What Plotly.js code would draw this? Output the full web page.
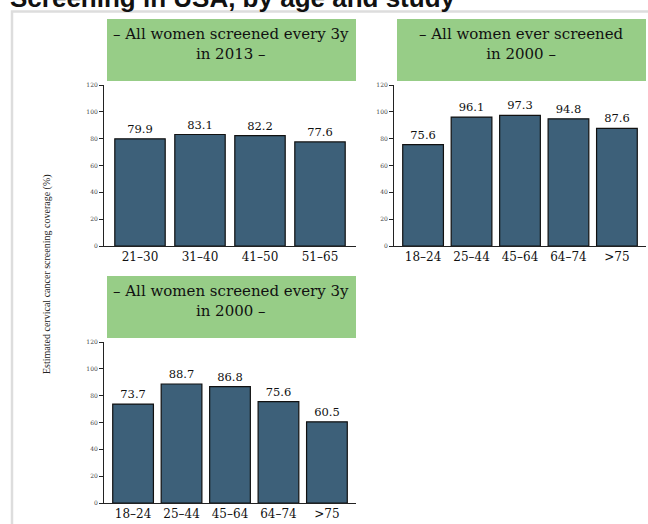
<!DOCTYPE html>
<html>
<head>
<meta charset="utf-8">
<script src="https://cdn.plot.ly/plotly-3.0.1.min.js"></script>
<style>html,body{margin:0;padding:0;background:#fff;}#chart{width:648px;height:524px;}</style>
</head>
<body>
<div id="chart"></div>
<script>
// Data
const mainTitle = "Screening in USA, by age and study";
const yAxisTitle = "Estimated cervical cancer screening coverage (%)";
const panelTitles = [
  "– All women screened every 3y<br>in 2013 –",
  "– All women ever screened<br>in 2000 –",
  "– All women screened every 3y<br>in 2000 –"
];
const ages2013 = ["21–30", "31–40", "41–50", "51–65"];
const values2013 = [79.9, 83.1, 82.2, 77.6];
const ages2000 = ["18–24", "25–44", "45–64", "64–74", ">75"];
const valuesEver2000 = [75.6, 96.1, 97.3, 94.8, 87.6];
const values3y2000 = [73.7, 88.7, 86.8, 75.6, 60.5];
const yTicks = [0, 20, 40, 60, 80, 100, 120];

const W = 648, H = 524;
const px = v => v / W;
const py = v => 1 - v / H;

const barColor = "#3d6079";
const greenColor = "#97cd87";
const serif = "'DejaVu Serif', 'Liberation Serif', serif";

function barTrace(cats, vals, xa, ya) {
  return {
    type: "bar", x: cats, y: vals, xaxis: xa, yaxis: ya,
    marker: {color: barColor, line: {color: "#111", width: 1.2}},
    text: vals.map(v => v.toFixed(1)), textposition: "outside",
    textfont: {family: serif, size: 11.5, color: "#111"},
    cliponaxis: false, hoverinfo: "x+y", showlegend: false
  };
}

const data = [
  barTrace(ages2013, values2013, "x", "y"),
  barTrace(ages2000, valuesEver2000, "x2", "y2"),
  barTrace(ages2000, values3y2000, "x3", "y3")
];

function xAxis(domain, n, anchor) {
  return {
    domain: domain, anchor: anchor, range: [-0.6, n - 0.4],
    showline: true, linecolor: "#222", linewidth: 1, ticks: "",
    tickfont: {family: serif, size: 12, color: "#111"},
    showgrid: false, zeroline: false, fixedrange: true
  };
}
function yAxis(domain, anchor) {
  return {
    domain: domain, anchor: anchor, range: [0, 120],
    tickvals: yTicks, ticktext: yTicks.map(String),
    showline: true, linecolor: "#222", linewidth: 1,
    ticks: "outside", ticklen: 4, tickcolor: "#222", tickwidth: 1,
    tickfont: {family: serif, size: 6, color: "#444"},
    showgrid: false, zeroline: false, fixedrange: true
  };
}

const xd1 = [px(104), px(356)], xd2 = [px(394), px(646)];
const ydTop = [py(246), py(85)], ydBot = [py(503), py(342)];

const headers = [
  {x0: 107, x1: 356, y0: 19, y1: 81},
  {x0: 397, x1: 646, y0: 19, y1: 81},
  {x0: 107, x1: 356, y0: 276, y1: 338}
];

const shapes = headers.map(h => ({
  type: "rect", xref: "paper", yref: "paper",
  x0: px(h.x0), x1: px(h.x1), y0: py(h.y1), y1: py(h.y0),
  fillcolor: greenColor, line: {width: 0}, layer: "below"
}));
shapes.push({
  type: "rect", xref: "paper", yref: "paper",
  x0: px(12), x1: px(700), y0: py(600), y1: py(11.5),
  fillcolor: "rgba(0,0,0,0)", line: {color: "#dddddd", width: 2.5}
});

const annotations = headers.map((h, i) => ({
  xref: "paper", yref: "paper",
  x: px((h.x0 + h.x1) / 2), y: py(h.y0 + 25),
  xanchor: "center", yanchor: "middle",
  text: panelTitles[i], showarrow: false, align: "center",
  font: {family: serif, size: 15, color: "#111"}
}));
annotations.push({
  xref: "paper", yref: "paper", x: px(47), y: py(274),
  xanchor: "center", yanchor: "middle", textangle: -90,
  text: yAxisTitle, showarrow: false,
  font: {family: "'Liberation Serif', serif", size: 10, color: "#222"}
});
annotations.push({
  xref: "paper", yref: "paper", x: px(8), y: py(15),
  xanchor: "left", yanchor: "bottom",
  text: "<b>" + mainTitle + "</b>", showarrow: false,
  font: {family: "'Liberation Sans', Arial, sans-serif", size: 26, color: "#111"}
});

const layout = {
  width: W, height: H,
  margin: {l: 0, r: 0, t: 0, b: 0},
  paper_bgcolor: "#fff", plot_bgcolor: "#fff",
  bargap: 0.16,
  xaxis: xAxis(xd1, 4, "y"), yaxis: yAxis(ydTop, "x"),
  xaxis2: xAxis(xd2, 5, "y2"), yaxis2: yAxis(ydTop, "x2"),
  xaxis3: xAxis(xd1, 5, "y3"), yaxis3: yAxis(ydBot, "x3"),
  shapes: shapes, annotations: annotations
};

Plotly.newPlot("chart", data, layout, {displayModeBar: false, staticPlot: true});
</script>
</body>
</html>
